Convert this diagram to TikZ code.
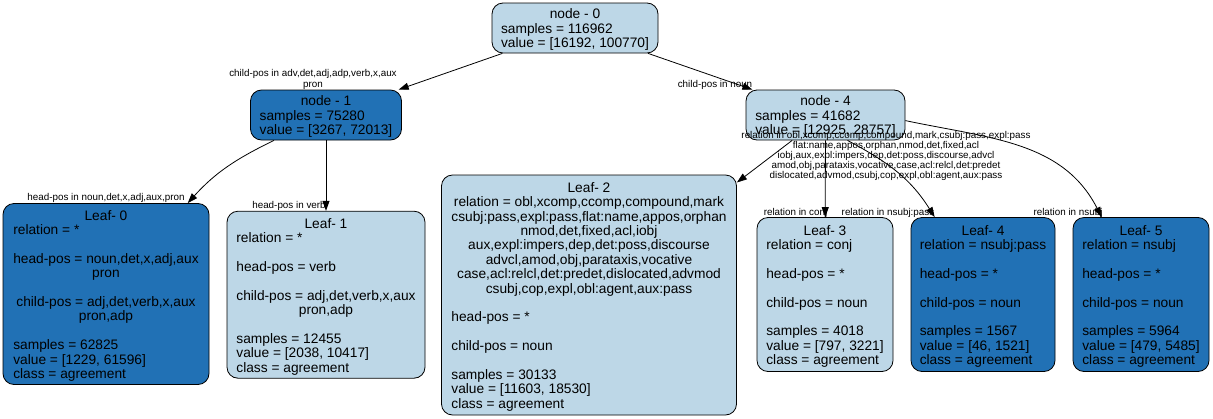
\documentclass[tikz,border=0pt]{standalone}
\usepackage{fontspec}
\setmainfont{Liberation Sans}
\usepackage{xcolor}
\usepackage{tikz}
\usetikzlibrary{arrows.meta}
\definecolor{lightblue}{HTML}{BDD7E7}
\definecolor{darkblue}{HTML}{2171B5}
\newcommand{\ctr}[1]{\multicolumn{1}{@{}c@{}}{#1}}
\newcommand{\hd}[1]{\multicolumn{1}{@{}c@{}}{\rule{0pt}{15pt}#1}}
\newcommand{\nodefont}{\fontsize{13.75}{14.4}\selectfont}
\newcommand{\labfont}{\fontsize{9.85}{10.2}\selectfont}

\begin{document}
\begin{tikzpicture}[
  x=1pt,y=1pt,
  tbox/.style={draw,rounded corners=11pt,line width=0.8pt,inner sep=0pt,
               font=\nodefont},
  light/.style={tbox,fill=lightblue},
  dark/.style={tbox,fill=darkblue},
  lab/.style={font=\labfont,inner sep=0pt,align=center},
  arr/.style={-{Triangle[length=10pt,width=7pt]},line width=0.8pt}
]
\useasboundingbox (0,0) rectangle (1213,-418);
% split nodes
\node[light,minimum width=166pt,minimum height=50pt] (n0) at (575,-28)
  {\begin{tabular}{@{}l@{}}\hd{node - 0}\\ samples = 116962\\ value = [16192, 100770]\end{tabular}};
\node[dark,minimum width=151pt,minimum height=50pt] (n1) at (326,-115)
  {\begin{tabular}{@{}l@{}}\hd{node - 1}\\ samples = 75280\\ value = [3267, 72013]\end{tabular}};
\node[light,minimum width=159pt,minimum height=50pt] (n4) at (825.5,-115)
  {\begin{tabular}{@{}l@{}}\hd{node - 4}\\ samples = 41682\\ value = [12925, 28757]\end{tabular}};
% leaves
\node[dark,minimum width=206pt,minimum height=181pt] (l0) at (106,-294)
  {\begin{tabular}{@{}l@{}}\hd{Leaf- 0}\\ relation = *\\ \\
   \ctr{head-pos = noun,det,x,adj,aux}\\ \ctr{pron}\\ \\
   \ctr{child-pos = adj,det,verb,x,aux}\\ \ctr{pron,adp}\\ \\
   samples = 62825\\ value = [1229, 61596]\\ class = agreement\end{tabular}};
\node[light,minimum width=198pt,minimum height=167pt] (l1) at (326,-294.7)
  {\begin{tabular}{@{}l@{}}\hd{Leaf- 1}\\ relation = *\\ \\
   head-pos = verb\\ \\
   child-pos = adj,det,verb,x,aux\\ \ctr{pron,adp}\\ \\
   samples = 12455\\ value = [2038, 10417]\\ class = agreement\end{tabular}};
\node[light,minimum width=295pt,minimum height=240pt] (l2) at (589,-295)
  {\begin{tabular}{@{}l@{}}\hd{Leaf- 2}\\
   \ctr{relation = obl,xcomp,ccomp,compound,mark}\\
   \ctr{csubj:pass,expl:pass,flat:name,appos,orphan}\\
   \ctr{nmod,det,fixed,acl,iobj}\\
   \ctr{aux,expl:impers,dep,det:poss,discourse}\\
   \ctr{advcl,amod,obj,parataxis,vocative}\\
   \ctr{case,acl:relcl,det:predet,dislocated,advmod}\\
   \ctr{csubj,cop,expl,obl:agent,aux:pass}\\ \\
   head-pos = *\\ \\
   child-pos = noun\\ \\
   samples = 30133\\ value = [11603, 18530]\\ class = agreement\end{tabular}};
\node[light,minimum width=136pt,minimum height=154pt] (l3) at (825,-294.5)
  {\begin{tabular}{@{}l@{}}\hd{Leaf- 3}\\ relation = conj\\ \\
   head-pos = *\\ \\ child-pos = noun\\ \\
   samples = 4018\\ value = [797, 3221]\\ class = agreement\end{tabular}};
\node[dark,minimum width=144pt,minimum height=154pt] (l4) at (983,-294.5)
  {\begin{tabular}{@{}l@{}}\hd{Leaf- 4}\\ relation = nsubj:pass\\ \\
   head-pos = *\\ \\ child-pos = noun\\ \\
   samples = 1567\\ value = [46, 1521]\\ class = agreement\end{tabular}};
\node[dark,minimum width=136pt,minimum height=154pt] (l5) at (1141,-294.5)
  {\begin{tabular}{@{}l@{}}\hd{Leaf- 5}\\ relation = nsubj\\ \\
   head-pos = *\\ \\ child-pos = noun\\ \\
   samples = 5964\\ value = [479, 5485]\\ class = agreement\end{tabular}};
% edge labels
\node[lab] (e01) at (313,-79.5) {child-pos in adv,det,adj,adp,verb,x,aux\\pron};
\node[lab] (e04) at (715,-85) {child-pos in noun};
\node[lab] (e10) at (106,-198) {head-pos in noun,det,x,adj,aux,pron};
\node[lab] (e11) at (289,-205.7) {head-pos in verb};
\node[lab] (e42) at (886,-156) {relation in obl,xcomp,ccomp,compound,mark,csubj:pass,expl:pass\\
  flat:name,appos,orphan,nmod,det,fixed,acl\\
  iobj,aux,expl:impers,dep,det:poss,discourse,advcl\\
  amod,obj,parataxis,vocative,case,acl:relcl,det:predet\\
  dislocated,advmod,csubj,cop,expl,obl:agent,aux:pass};
\node[lab] (e43) at (795.5,-212.7) {relation in conj};
\node[lab] (e44) at (888,-212.7) {relation in nsubj:pass};
\node[lab] (e45) at (1068,-212.7) {relation in nsubj};
% edges
\draw[arr] (n0) -- (n1);
\draw[arr] (n0) -- (n4);
\draw[arr] (n1) to[out=206,in=48] (l0);
\draw[arr] (n1) -- (l1);
\draw[arr] (n4) -- (l2);
\draw[arr] (n4) -- (l3);
\draw[arr] ([xshift=22pt]n4.south) to[out=-28,in=122] (l4);
\draw[arr] (n4.-4) to[out=-12,in=117] (l5);
\end{tikzpicture}
\end{document}
